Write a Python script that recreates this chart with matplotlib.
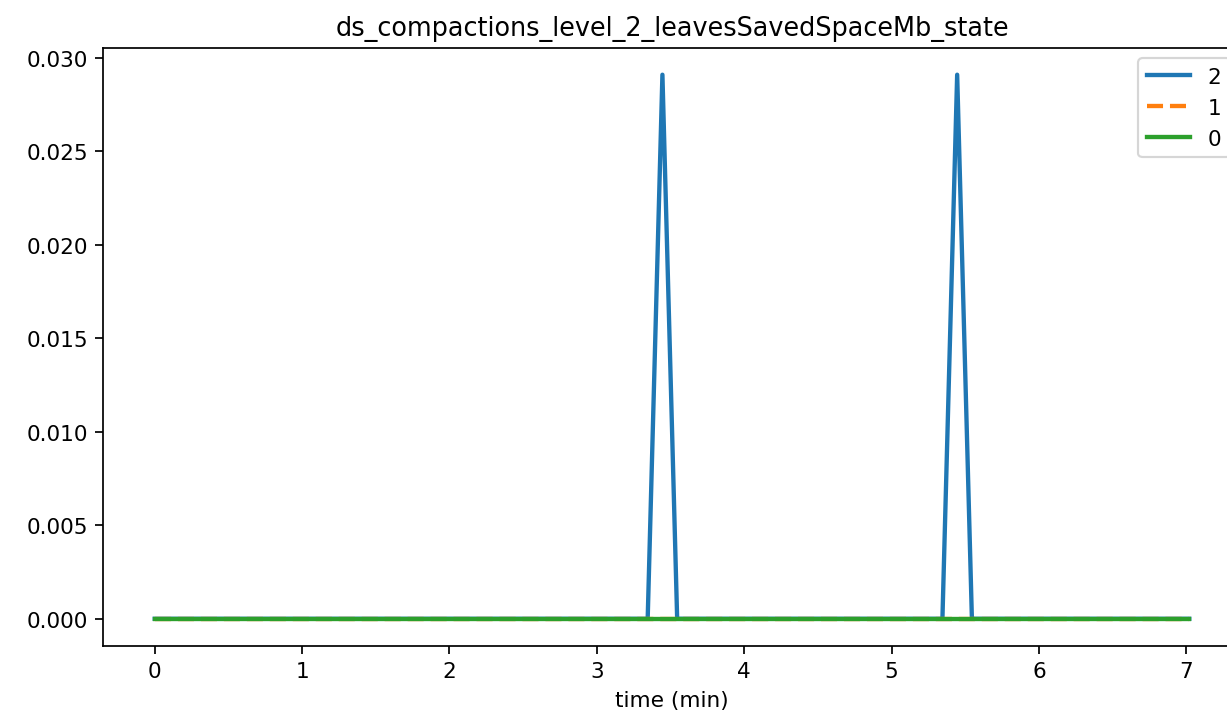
import numpy as np
import matplotlib
matplotlib.use("Agg")
import matplotlib.pyplot as plt

# time (min) and values for each state
time_2 = [0.0, 3.345, 3.445, 3.545, 5.345, 5.445, 5.545, 7.02]
vals_2 = [0.0, 0.0, 0.0291, 0.0, 0.0, 0.0291, 0.0, 0.0]
time_1 = [0.0, 3.445, 5.445, 7.02]
vals_1 = [0.0, 0.0, 0.0, 0.0]
time_0 = [0.0, 3.445, 5.445, 7.02]
vals_0 = [0.0, 0.0, 0.0, 0.0]

DPI = 156
fig = plt.figure(figsize=(1227 / DPI, 721 / DPI), dpi=DPI)
ax = fig.add_axes([103 / 1227, 1 - 647 / 721, 1138 / 1227, (647 - 48.5) / 721])

ax.plot(time_2, vals_2, color="#1f77b4", lw=2, label="2")
ax.plot(time_1, vals_1, color="#ff7f0e", lw=2, ls="--", label="1")
ax.plot(time_0, vals_0, color="#2ca02c", lw=2, label="0")

ax.set_title("ds_compactions_level_2_leavesSavedSpaceMb_state", fontsize=11.8)
ax.set_xlabel("time (min)")
ax.legend(loc="upper right")

fig.savefig("out.png", dpi=DPI)
